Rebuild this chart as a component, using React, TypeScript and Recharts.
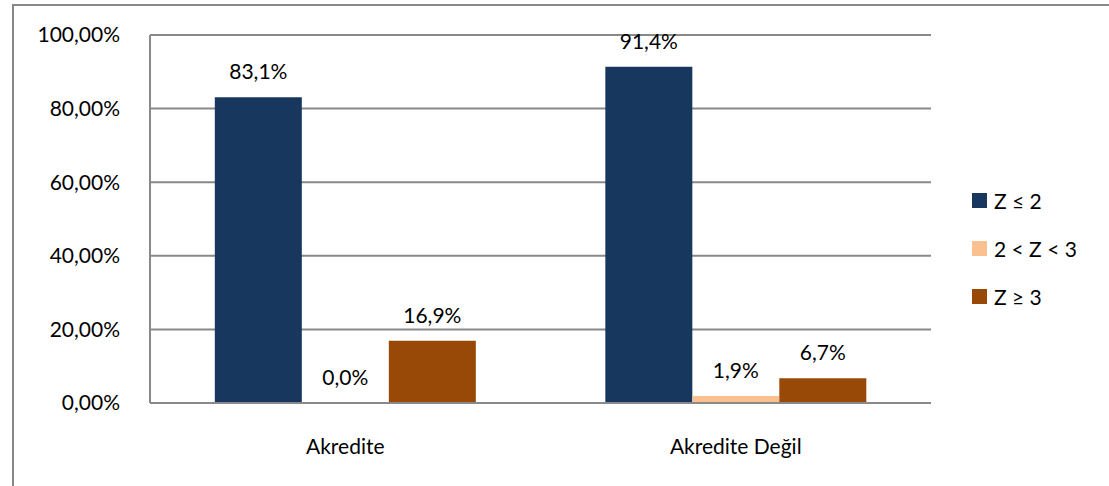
import { Bar, BarChart, CartesianGrid, LabelList, XAxis, YAxis } from 'recharts';

// Akreditasyon durumuna göre Z-skoru dağılımı (yüzde)
const CATEGORIES = ['Akredite', 'Akredite Değil'];
const Z_LOW = [83.1, 91.4]; // Z ≤ 2
const Z_MID = [0.0, 1.9]; // 2 < Z < 3
const Z_HIGH = [16.9, 6.7]; // Z ≥ 3
const Y_TICKS = [0, 20, 40, 60, 80, 100];

const SERIES = [
  { key: 'low', name: 'Z ≤ 2', color: '#17375E' },
  { key: 'mid', name: '2 < Z < 3', color: '#FAC090' },
  { key: 'high', name: 'Z ≥ 3', color: '#984807' },
];

const rows = CATEGORIES.map((name, i) => ({
  name,
  low: Z_LOW[i],
  mid: Z_MID[i],
  high: Z_HIGH[i],
}));

const FONT = 'Lato, "Noto Sans", sans-serif';
const GRID = '#898989';

const fmtAxis = (v: number) => `${v.toFixed(2).replace('.', ',')}%`;
const fmtLabel = (v: number) => `${Number(v).toFixed(1).replace('.', ',')}%`;

// sıfır değerli sütunun etiketi de çizilsin diye çok küçük bir yükseklik
const tinyForZero = (v: number) => (v === 0 ? 0.01 : 0);

function LegendBox() {
  return (
    <div
      style={{
        position: 'absolute',
        left: 972,
        top: 176,
        fontFamily: FONT,
        fontSize: 21,
        color: '#000',
      }}
    >
      {SERIES.map((s) => (
        <div key={s.key} style={{ display: 'flex', alignItems: 'center', height: 48 }}>
          <span
            style={{
              width: 15,
              height: 15,
              background: s.color,
              display: 'inline-block',
              marginRight: 7,
            }}
          />
          <span>{s.name}</span>
        </div>
      ))}
    </div>
  );
}

export default function App() {
  return (
    <div
      style={{
        position: 'fixed',
        left: 0,
        top: 0,
        width: 1109,
        height: 486,
        overflow: 'hidden',
        background: '#fff',
      }}
    >
      <div
        style={{
          position: 'absolute',
          left: 12,
          top: 4,
          width: 1200,
          height: 600,
          borderLeft: `2px solid ${GRID}`,
          borderTop: `2px solid ${GRID}`,
        }}
      />
      <div style={{ position: 'absolute', left: 0, top: 0 }}>
        <BarChart
          width={1109}
          height={486}
          data={rows}
          margin={{ top: 35, right: 178, bottom: 33, left: 0 }}
          barCategoryGap="16.6%"
          barGap={0}
          style={{ fontFamily: FONT }}
        >
          <CartesianGrid vertical={false} stroke={GRID} strokeWidth={2} />
          <XAxis
            dataKey="name"
            height={50}
            tickLine={false}
            axisLine={{ stroke: GRID, strokeWidth: 2 }}
            tick={{ fill: '#000', fontSize: 21 }}
            tickMargin={30}
          />
          <YAxis
            width={150}
            domain={[0, 100]}
            ticks={Y_TICKS}
            tickFormatter={fmtAxis}
            tickLine={false}
            axisLine={{ stroke: GRID, strokeWidth: 2 }}
            tick={{ fill: '#000', fontSize: 21 }}
            tickMargin={24}
            interval={0}
          />
          {SERIES.map((s) => (
            <Bar
              key={s.key}
              dataKey={s.key}
              name={s.name}
              fill={s.color}
              minPointSize={tinyForZero}
              isAnimationActive={false}
            >
              <LabelList
                dataKey={s.key}
                position="top"
                offset={18}
                formatter={fmtLabel}
                fill="#000"
                fontSize={21}
                fontFamily={FONT}
              />
            </Bar>
          ))}
        </BarChart>
      </div>
      <LegendBox />
    </div>
  );
}
